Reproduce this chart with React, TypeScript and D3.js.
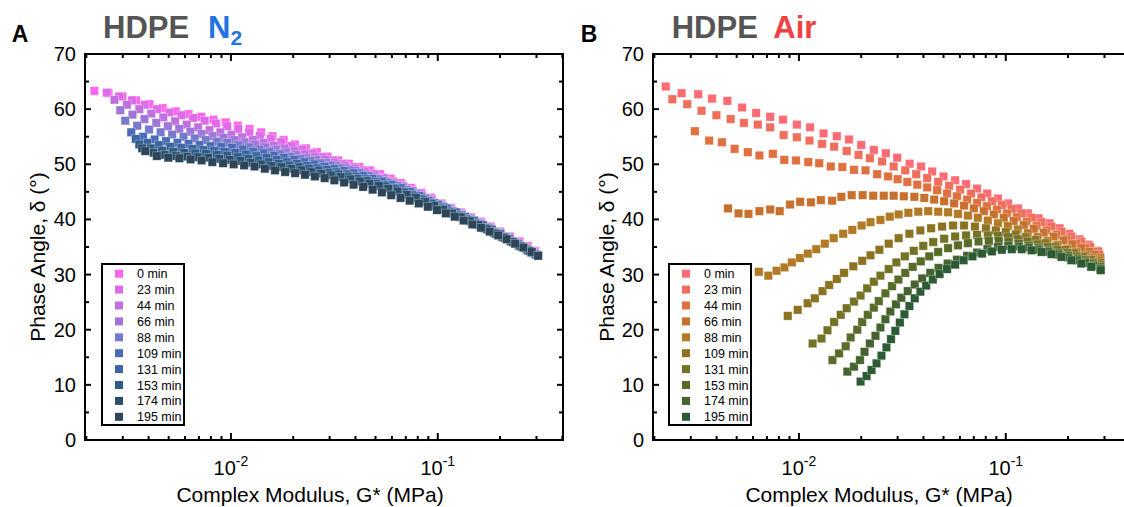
import React from "react";
import * as d3 from "d3";

// aging times shown in both legends
const times = [0, 23, 44, 66, 88, 109, 131, 153, 174, 195];

const n2Colors = ["#ff66f0", "#e06be8", "#c070e0", "#9c76d8", "#7878cc", "#4a6cb8", "#3d66a0", "#2b5d88", "#2a4f6e", "#2c4558"];
const airColors = ["#ff6b75", "#ef6f5c", "#e0703f", "#c8712e", "#b27a25", "#8c7322", "#747225", "#586b29", "#44632f", "#2b5a33"];

// points are [log10 of G* in MPa, phase angle in degrees]
const n2_0min = [[-2.660,63.3],[-2.592,62.9],[-2.525,62.3],[-2.459,61.6],[-2.394,60.9],[-2.330,60.2],[-2.267,59.6],[-2.205,59.1],[-2.144,58.6],[-2.084,58.1],[-2.025,57.6],[-1.967,57.0],[-1.910,56.4],[-1.854,55.8],[-1.799,55.1],[-1.745,54.4],[-1.691,53.6],[-1.638,52.9],[-1.585,52.2],[-1.533,51.4],[-1.481,50.7],[-1.430,50.1],[-1.379,49.5],[-1.328,48.9],[-1.278,48.2],[-1.228,47.4],[-1.178,46.6],[-1.129,45.7],[-1.080,44.8],[-1.031,43.9],[-0.983,42.9],[-0.935,42.1],[-0.887,41.3],[-0.839,40.4],[-0.792,39.6],[-0.745,38.7],[-0.698,37.8],[-0.651,36.9],[-0.605,36.0],[-0.566,35.2],[-0.530,34.3]];
const n2_23min = [[-2.600,63.0],[-2.540,62.3],[-2.478,61.6],[-2.417,60.8],[-2.357,60.0],[-2.298,59.4],[-2.240,58.9],[-2.183,58.4],[-2.127,57.9],[-2.072,57.4],[-2.018,56.9],[-1.965,56.4],[-1.912,55.8],[-1.860,55.2],[-1.808,54.6],[-1.757,54.0],[-1.706,53.3],[-1.656,52.7],[-1.606,52.0],[-1.556,51.3],[-1.507,50.7],[-1.458,50.1],[-1.409,49.5],[-1.361,48.9],[-1.313,48.3],[-1.265,47.6],[-1.218,46.9],[-1.171,46.1],[-1.124,45.3],[-1.077,44.4],[-1.031,43.6],[-0.985,42.8],[-0.939,42.0],[-0.893,41.2],[-0.847,40.4],[-0.802,39.6],[-0.757,38.7],[-0.712,37.8],[-0.667,36.9],[-0.623,36.0],[-0.579,35.1],[-0.536,34.2]];
const n2_44min = [[-2.563,61.7],[-2.503,60.8],[-2.443,60.0],[-2.385,59.2],[-2.327,58.5],[-2.270,57.8],[-2.214,57.2],[-2.159,56.7],[-2.104,56.2],[-2.051,55.8],[-1.998,55.4],[-1.946,54.9],[-1.894,54.4],[-1.843,53.9],[-1.792,53.4],[-1.742,52.9],[-1.692,52.4],[-1.643,51.8],[-1.594,51.3],[-1.545,50.8],[-1.497,50.3],[-1.449,49.7],[-1.401,49.2],[-1.354,48.6],[-1.307,48.0],[-1.260,47.4],[-1.213,46.7],[-1.167,46.0],[-1.121,45.2],[-1.075,44.3],[-1.029,43.5],[-0.983,42.7],[-0.938,41.9],[-0.893,41.1],[-0.848,40.3],[-0.803,39.5],[-0.759,38.7],[-0.715,37.8],[-0.671,36.9],[-0.628,36.0],[-0.585,35.0],[-0.544,34.1]];
const n2_66min = [[-2.535,59.8],[-2.476,59.0],[-2.418,58.2],[-2.361,57.5],[-2.305,56.9],[-2.250,56.4],[-2.196,55.9],[-2.142,55.5],[-2.089,55.1],[-2.037,54.8],[-1.985,54.4],[-1.934,54.0],[-1.883,53.6],[-1.833,53.1],[-1.783,52.7],[-1.734,52.2],[-1.685,51.7],[-1.636,51.2],[-1.588,50.8],[-1.540,50.3],[-1.492,49.8],[-1.445,49.3],[-1.398,48.8],[-1.351,48.2],[-1.305,47.6],[-1.259,47.0],[-1.213,46.4],[-1.167,45.7],[-1.122,44.9],[-1.077,44.1],[-1.032,43.3],[-0.987,42.5],[-0.942,41.7],[-0.897,40.9],[-0.853,40.2],[-0.809,39.4],[-0.765,38.6],[-0.721,37.7],[-0.678,36.8],[-0.635,35.9],[-0.592,35.0],[-0.550,34.0]];
const n2_88min = [[-2.511,57.9],[-2.453,57.0],[-2.396,56.3],[-2.340,55.8],[-2.284,55.4],[-2.229,55.0],[-2.175,54.7],[-2.122,54.4],[-2.069,54.1],[-2.017,53.9],[-1.965,53.5],[-1.914,53.1],[-1.863,52.7],[-1.813,52.3],[-1.763,51.9],[-1.714,51.4],[-1.665,51.0],[-1.617,50.6],[-1.569,50.2],[-1.521,49.8],[-1.474,49.3],[-1.427,48.9],[-1.380,48.4],[-1.334,47.9],[-1.288,47.3],[-1.242,46.7],[-1.196,46.1],[-1.151,45.4],[-1.106,44.6],[-1.061,43.8],[-1.016,43.0],[-0.972,42.3],[-0.928,41.5],[-0.884,40.8],[-0.840,40.0],[-0.797,39.2],[-0.754,38.4],[-0.711,37.6],[-0.668,36.7],[-0.626,35.8],[-0.584,34.9],[-0.543,33.9]];
const n2_109min = [[-2.482,55.8],[-2.425,55.0],[-2.369,54.5],[-2.314,54.2],[-2.259,53.9],[-2.205,53.7],[-2.152,53.5],[-2.099,53.3],[-2.047,53.2],[-1.995,53.0],[-1.944,52.7],[-1.893,52.3],[-1.843,52.0],[-1.793,51.6],[-1.744,51.2],[-1.695,50.8],[-1.646,50.4],[-1.598,50.0],[-1.550,49.6],[-1.502,49.2],[-1.455,48.8],[-1.408,48.4],[-1.362,47.9],[-1.316,47.4],[-1.270,46.9],[-1.224,46.3],[-1.179,45.7],[-1.134,45.0],[-1.089,44.3],[-1.044,43.4],[-1.000,42.7],[-0.956,42.0],[-0.912,41.3],[-0.868,40.5],[-0.825,39.8],[-0.782,39.0],[-0.739,38.2],[-0.697,37.4],[-0.655,36.5],[-0.613,35.6],[-0.572,34.7],[-0.532,33.8]];
const n2_131min = [[-2.460,54.6],[-2.404,53.9],[-2.349,53.5],[-2.294,53.2],[-2.240,53.0],[-2.187,52.8],[-2.134,52.6],[-2.082,52.5],[-2.030,52.3],[-1.979,52.1],[-1.928,51.8],[-1.878,51.5],[-1.828,51.2],[-1.779,50.8],[-1.730,50.4],[-1.681,50.1],[-1.633,49.7],[-1.585,49.3],[-1.537,49.0],[-1.490,48.6],[-1.443,48.2],[-1.397,47.8],[-1.351,47.3],[-1.305,46.8],[-1.259,46.3],[-1.214,45.7],[-1.169,45.1],[-1.124,44.5],[-1.080,43.8],[-1.036,43.0],[-0.992,42.2],[-0.948,41.5],[-0.905,40.8],[-0.862,40.1],[-0.819,39.3],[-0.776,38.5],[-0.734,37.7],[-0.692,36.9],[-0.650,36.1],[-0.609,35.3],[-0.568,34.5],[-0.528,33.7]];
const n2_153min = [[-2.443,53.6],[-2.388,52.9],[-2.333,52.5],[-2.279,52.3],[-2.226,52.1],[-2.173,52.0],[-2.121,51.9],[-2.069,51.7],[-2.018,51.6],[-1.967,51.3],[-1.917,51.0],[-1.867,50.7],[-1.818,50.4],[-1.769,50.1],[-1.720,49.8],[-1.672,49.5],[-1.624,49.2],[-1.576,48.9],[-1.529,48.5],[-1.482,48.2],[-1.435,47.8],[-1.389,47.4],[-1.343,47.0],[-1.297,46.5],[-1.252,46.0],[-1.207,45.5],[-1.162,44.9],[-1.117,44.2],[-1.073,43.5],[-1.029,42.8],[-0.985,42.0],[-0.942,41.3],[-0.899,40.6],[-0.856,39.9],[-0.813,39.1],[-0.771,38.4],[-0.729,37.6],[-0.687,36.8],[-0.646,36.0],[-0.605,35.2],[-0.564,34.4],[-0.524,33.6]];
const n2_174min = [[-2.429,52.9],[-2.374,52.1],[-2.320,51.7],[-2.266,51.5],[-2.213,51.4],[-2.161,51.3],[-2.109,51.2],[-2.057,51.0],[-2.006,50.8],[-1.955,50.6],[-1.905,50.3],[-1.855,50.0],[-1.806,49.7],[-1.757,49.5],[-1.708,49.2],[-1.660,48.9],[-1.612,48.6],[-1.564,48.3],[-1.517,48.0],[-1.470,47.7],[-1.423,47.3],[-1.377,46.9],[-1.331,46.5],[-1.285,46.1],[-1.240,45.6],[-1.195,45.1],[-1.150,44.5],[-1.106,43.9],[-1.062,43.2],[-1.018,42.5],[-0.974,41.8],[-0.931,41.1],[-0.888,40.4],[-0.845,39.7],[-0.803,39.0],[-0.761,38.2],[-0.719,37.4],[-0.678,36.7],[-0.637,35.9],[-0.596,35.1],[-0.556,34.3],[-0.516,33.5]];
const n2_195min = [[-2.414,52.4],[-2.358,51.5],[-2.303,51.2],[-2.249,51.1],[-2.195,50.9],[-2.142,50.7],[-2.090,50.4],[-2.038,50.2],[-1.987,50.0],[-1.936,49.8],[-1.886,49.6],[-1.836,49.2],[-1.787,48.9],[-1.738,48.6],[-1.690,48.4],[-1.642,48.1],[-1.594,47.8],[-1.547,47.5],[-1.500,47.1],[-1.453,46.7],[-1.407,46.3],[-1.361,45.9],[-1.315,45.4],[-1.270,44.9],[-1.225,44.4],[-1.180,43.9],[-1.136,43.4],[-1.092,42.9],[-1.048,42.3],[-1.004,41.7],[-0.961,41.1],[-0.918,40.5],[-0.875,39.8],[-0.833,39.1],[-0.791,38.5],[-0.749,37.8],[-0.708,37.1],[-0.667,36.4],[-0.626,35.6],[-0.586,34.9],[-0.546,34.1],[-0.515,33.4]];

const air_0min = [[-2.644,64.1],[-2.567,62.9],[-2.487,62.7],[-2.420,61.9],[-2.346,61.5],[-2.275,60.3],[-2.207,59.3],[-2.139,58.6],[-2.077,58.1],[-2.010,57.2],[-1.946,56.7],[-1.881,55.6],[-1.817,55.1],[-1.758,54.5],[-1.699,53.5],[-1.638,52.6],[-1.580,52.0],[-1.525,51.2],[-1.465,50.1],[-1.410,49.6],[-1.356,48.7],[-1.301,47.8],[-1.245,47.1],[-1.192,46.4],[-1.139,45.6],[-1.090,44.7],[-1.038,43.8],[-0.989,42.9],[-0.941,42.0],[-0.893,41.1],[-0.841,40.2],[-0.788,39.3],[-0.740,38.4],[-0.692,37.4],[-0.644,36.4],[-0.600,35.4],[-0.558,34.3]];
const air_23min = [[-2.612,61.8],[-2.540,60.9],[-2.471,59.7],[-2.399,58.9],[-2.330,58.2],[-2.266,57.5],[-2.199,57.2],[-2.139,56.7],[-2.074,55.3],[-2.010,54.9],[-1.949,54.3],[-1.888,53.7],[-1.830,53.2],[-1.769,52.4],[-1.712,51.7],[-1.657,51.1],[-1.598,50.5],[-1.542,49.6],[-1.486,48.9],[-1.433,48.2],[-1.380,47.5],[-1.327,46.8],[-1.274,46.1],[-1.221,45.4],[-1.168,44.7],[-1.118,44.0],[-1.067,43.3],[-1.019,42.6],[-0.971,41.9],[-0.923,41.1],[-0.875,40.3],[-0.827,39.5],[-0.779,38.7],[-0.731,37.8],[-0.683,36.9],[-0.635,36.0],[-0.591,35.0],[-0.553,34.2]];
const air_44min = [[-2.503,56.0],[-2.434,54.3],[-2.372,54.0],[-2.311,52.8],[-2.247,52.2],[-2.191,51.6],[-2.126,51.9],[-2.071,50.8],[-2.014,50.7],[-1.955,50.4],[-1.902,50.2],[-1.846,49.6],[-1.790,49.5],[-1.734,49.0],[-1.678,48.9],[-1.622,48.2],[-1.569,47.8],[-1.523,47.3],[-1.476,46.8],[-1.428,46.3],[-1.380,45.8],[-1.332,45.3],[-1.284,44.7],[-1.236,44.2],[-1.187,43.6],[-1.139,43.0],[-1.091,42.4],[-1.043,41.8],[-0.995,41.1],[-0.947,40.4],[-0.899,39.6],[-0.851,38.8],[-0.803,38.0],[-0.755,37.2],[-0.707,36.4],[-0.659,35.6],[-0.615,34.8],[-0.577,34.1],[-0.548,33.6]];
const air_66min = [[-2.343,42.0],[-2.292,41.1],[-2.244,41.0],[-2.191,41.5],[-2.139,41.8],[-2.093,41.5],[-2.043,42.7],[-1.994,43.2],[-1.942,43.1],[-1.894,43.5],[-1.840,43.4],[-1.795,44.1],[-1.745,44.4],[-1.692,44.4],[-1.641,44.3],[-1.590,44.3],[-1.542,44.3],[-1.493,44.2],[-1.442,44.1],[-1.394,43.9],[-1.346,43.6],[-1.298,43.3],[-1.250,42.9],[-1.202,42.5],[-1.154,42.0],[-1.106,41.5],[-1.058,40.9],[-1.010,40.3],[-0.962,39.7],[-0.913,39.0],[-0.865,38.3],[-0.817,37.6],[-0.769,36.9],[-0.721,36.2],[-0.678,35.5],[-0.635,34.8],[-0.596,34.1],[-0.567,33.6],[-0.543,33.1]];
const air_88min = [[-2.194,30.5],[-2.148,29.8],[-2.108,30.7],[-2.070,31.3],[-2.034,32.2],[-1.995,33.0],[-1.957,33.8],[-1.916,34.6],[-1.875,35.6],[-1.832,36.6],[-1.786,37.4],[-1.742,38.1],[-1.697,38.9],[-1.654,39.5],[-1.606,39.9],[-1.561,40.5],[-1.518,40.9],[-1.471,41.2],[-1.423,41.4],[-1.375,41.5],[-1.327,41.4],[-1.279,41.3],[-1.231,41.0],[-1.183,40.7],[-1.135,40.3],[-1.087,39.8],[-1.038,39.3],[-0.990,38.8],[-0.942,38.2],[-0.894,37.5],[-0.846,36.8],[-0.798,36.1],[-0.750,35.4],[-0.702,34.7],[-0.659,34.1],[-0.615,33.5],[-0.577,33.0],[-0.543,32.6]];
const air_109min = [[-2.054,22.5],[-2.006,23.6],[-1.958,24.8],[-1.923,25.7],[-1.886,27.0],[-1.854,28.1],[-1.817,29.2],[-1.782,30.3],[-1.737,31.5],[-1.694,32.5],[-1.654,33.5],[-1.611,34.5],[-1.566,35.6],[-1.518,36.6],[-1.466,37.4],[-1.413,38.0],[-1.361,38.4],[-1.308,38.7],[-1.255,38.9],[-1.202,38.9],[-1.149,38.7],[-1.096,38.4],[-1.048,38.0],[-1.000,37.7],[-0.952,37.3],[-0.904,36.8],[-0.856,36.3],[-0.808,35.7],[-0.760,35.1],[-0.712,34.5],[-0.668,33.9],[-0.625,33.3],[-0.587,32.7],[-0.543,32.1]];
const air_131min = [[-1.934,17.5],[-1.891,18.4],[-1.862,19.9],[-1.830,21.4],[-1.798,22.7],[-1.769,23.9],[-1.734,25.1],[-1.702,26.2],[-1.670,27.5],[-1.638,28.7],[-1.606,29.8],[-1.566,31.0],[-1.529,32.2],[-1.488,33.3],[-1.445,34.3],[-1.399,35.2],[-1.351,35.9],[-1.298,36.5],[-1.245,36.9],[-1.192,37.1],[-1.139,37.2],[-1.087,37.1],[-1.038,37.0],[-0.990,36.8],[-0.942,36.4],[-0.894,36.0],[-0.846,35.5],[-0.798,35.0],[-0.750,34.5],[-0.702,33.9],[-0.659,33.3],[-0.615,32.7],[-0.577,32.2],[-0.543,31.7]];
const air_153min = [[-1.838,14.5],[-1.806,15.7],[-1.774,17.0],[-1.750,18.6],[-1.718,20.0],[-1.694,21.4],[-1.667,22.7],[-1.638,24.0],[-1.614,25.2],[-1.582,26.6],[-1.550,27.9],[-1.519,29.1],[-1.486,30.3],[-1.450,31.4],[-1.411,32.4],[-1.370,33.3],[-1.327,34.1],[-1.279,34.8],[-1.231,35.3],[-1.183,35.7],[-1.132,36.0],[-1.082,36.1],[-1.034,36.1],[-0.986,35.9],[-0.937,35.6],[-0.889,35.2],[-0.841,34.8],[-0.793,34.4],[-0.745,33.9],[-0.697,33.4],[-0.654,32.9],[-0.615,32.4],[-0.577,31.9],[-0.543,31.4]];
const air_174min = [[-1.766,12.4],[-1.734,13.3],[-1.705,14.5],[-1.683,16.0],[-1.657,17.5],[-1.630,18.9],[-1.606,20.4],[-1.582,21.9],[-1.558,23.3],[-1.531,24.6],[-1.505,25.8],[-1.474,27.0],[-1.440,28.2],[-1.404,29.3],[-1.365,30.3],[-1.325,31.2],[-1.281,32.0],[-1.236,32.7],[-1.187,33.4],[-1.139,34.0],[-1.089,34.6],[-1.038,35.0],[-0.988,35.2],[-0.937,35.1],[-0.889,34.9],[-0.841,34.5],[-0.793,34.1],[-0.745,33.6],[-0.697,33.1],[-0.654,32.6],[-0.615,32.1],[-0.577,31.6],[-0.543,31.1]];
const air_195min = [[-1.702,10.6],[-1.673,11.6],[-1.649,12.7],[-1.625,13.9],[-1.601,15.3],[-1.577,16.8],[-1.555,18.3],[-1.534,19.8],[-1.512,21.3],[-1.490,22.8],[-1.466,24.3],[-1.440,25.7],[-1.413,26.9],[-1.385,28.0],[-1.353,29.1],[-1.320,30.1],[-1.284,31.0],[-1.245,31.8],[-1.204,32.6],[-1.161,33.3],[-1.115,33.8],[-1.067,34.2],[-1.019,34.5],[-0.971,34.6],[-0.923,34.6],[-0.875,34.4],[-0.827,34.1],[-0.779,33.7],[-0.731,33.2],[-0.683,32.6],[-0.635,32.0],[-0.587,31.4],[-0.541,30.8]];

const n2Series = [n2_0min, n2_23min, n2_44min, n2_66min, n2_88min, n2_109min, n2_131min, n2_153min, n2_174min, n2_195min];
const airSeries = [air_0min, air_23min, air_44min, air_66min, air_88min, air_109min, air_131min, air_153min, air_174min, air_195min];

const yTicks = [0, 10, 20, 30, 40, 50, 60, 70];
const yMinor = [5, 15, 25, 35, 45, 55, 65];
const xMajor = [0.01, 0.1];
const xMajorExp = ["-2", "-1"];

const FONT = "'Liberation Sans', Arial, Helvetica, sans-serif";
const TOP = 54;
const BOTTOM = 440;
const PW = 478;

function Panel(props) {
  const { left, series, colors, letter, letterX, titleX, gas, gasX, gasColor, gasSub, legendX, yLabelX, xLabelX } = props;

  const x = d3.scaleLog().domain([0.00197, 0.403]).range([left, left + PW]);
  const y = d3.scaleLinear().domain([0, 70]).range([BOTTOM, TOP]);

  const minor = x.ticks().filter((v) => {
    const l = Math.log10(v);
    return Math.abs(l - Math.round(l)) > 1e-6 && v >= 0.00197 && v <= 0.403;
  });

  return (
    <g>
      <text x={letterX} y={41.7} fontSize={23} fontWeight="bold" fontFamily={FONT} fill="#000">{letter}</text>
      <text x={titleX} y={38} fontSize={31} fontWeight="bold" fontFamily={FONT} fill="#555555">HDPE</text>
      <text x={gasX} y={38} fontSize={31} fontWeight="bold" fontFamily={FONT} fill={gasColor}>
        {gas}
        {gasSub ? <tspan dy={7} fontSize={21}>{gasSub}</tspan> : null}
      </text>

      {/* data */}
      {series.map((pts, i) => (
        <g key={i} fill={colors[i]} stroke="#ffffff" strokeOpacity={0.4} strokeWidth={0.7}>
          {pts.map((p, j) => (
            <rect key={j} x={x(Math.pow(10, p[0])) - 4.2} y={y(p[1]) - 4.2} width={8.4} height={8.4} />
          ))}
        </g>
      ))}

      {/* frame */}
      <rect x={left} y={TOP} width={PW} height={BOTTOM - TOP} fill="none" stroke="#000" strokeWidth={2} />

      {/* y ticks */}
      {yTicks.map((t) => (
        <g key={"y" + t}>
          <line x1={left} x2={left + 6} y1={y(t)} y2={y(t)} stroke="#000" strokeWidth={2} />
          <line x1={left + PW} x2={left + PW - 6} y1={y(t)} y2={y(t)} stroke="#000" strokeWidth={2} />
          <text x={left - 9} y={y(t) + 7} textAnchor="end" fontSize={20} fontFamily={FONT} fill="#000">{t}</text>
        </g>
      ))}
      {yMinor.map((t) => (
        <g key={"ym" + t}>
          <line x1={left} x2={left + 4} y1={y(t)} y2={y(t)} stroke="#000" strokeWidth={2} />
          <line x1={left + PW} x2={left + PW - 4} y1={y(t)} y2={y(t)} stroke="#000" strokeWidth={2} />
        </g>
      ))}

      {/* x ticks */}
      {xMajor.map((t, i) => (
        <g key={"x" + t}>
          <line x1={x(t)} x2={x(t)} y1={BOTTOM} y2={BOTTOM - 7} stroke="#000" strokeWidth={2} />
          <line x1={x(t)} x2={x(t)} y1={TOP} y2={TOP + 7} stroke="#000" strokeWidth={2} />
          <text x={x(t)} y={475} textAnchor="middle" fontSize={20} fontFamily={FONT} fill="#000">
            10<tspan dy={-9} fontSize={14}>{xMajorExp[i]}</tspan>
          </text>
        </g>
      ))}
      {minor.map((t) => (
        <g key={"xm" + t}>
          <line x1={x(t)} x2={x(t)} y1={BOTTOM} y2={BOTTOM - 4} stroke="#000" strokeWidth={2} />
          <line x1={x(t)} x2={x(t)} y1={TOP} y2={TOP + 4} stroke="#000" strokeWidth={2} />
        </g>
      ))}

      {/* axis titles */}
      <text x={xLabelX} y={502} textAnchor="middle" fontSize={21} fontFamily={FONT} fill="#000">Complex Modulus, G* (MPa)</text>
      <text transform={`translate(${yLabelX},257) rotate(-90)`} textAnchor="middle" fontSize={21} fontFamily={FONT} fill="#000">Phase Angle, δ (°)</text>

      {/* legend */}
      <rect x={legendX} y={264} width={82} height={161} fill="#fff" stroke="#000" strokeWidth={2} />
      {times.map((t, i) => (
        <g key={"lg" + t}>
          <rect x={legendX + 13} y={273.7 + i * 15.9 - 4} width={8} height={8} fill={colors[i]} />
          <text x={legendX + 35} y={273.7 + i * 15.9 + 4.5} fontSize={12.5} fontFamily={FONT} fill="#000">{t} min</text>
        </g>
      ))}
    </g>
  );
}

export default function App() {
  return (
    <svg width={1124} height={507} style={{ position: "absolute", left: 0, top: 0, background: "#fff" }}>
      <Panel
        left={85}
        series={n2Series}
        colors={n2Colors}
        letter="A"
        letterX={11.7}
        titleX={103}
        gas="N"
        gasX={208}
        gasColor="#1f74e0"
        gasSub="2"
        legendX={102}
        yLabelX={45}
        xLabelX={310}
      />
      <Panel
        left={653}
        series={airSeries}
        colors={airColors}
        letter="B"
        letterX={580.7}
        titleX={671.7}
        gas="Air"
        gasX={773.3}
        gasColor="#f04242"
        gasSub={null}
        legendX={669}
        yLabelX={614}
        xLabelX={879}
      />
    </svg>
  );
}
